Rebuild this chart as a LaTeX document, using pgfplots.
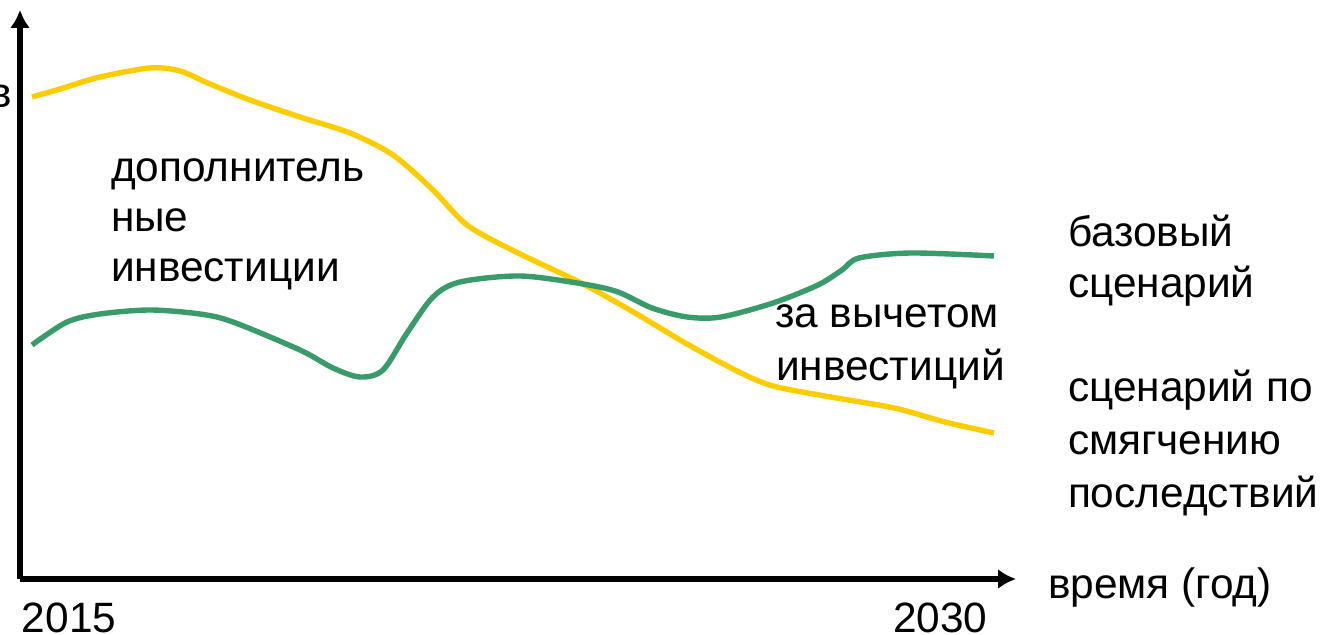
\documentclass[border=0pt]{standalone}
\usepackage{pgfplots}
\pgfplotsset{compat=1.18}
\usepackage{fontspec}
\setmainfont{Liberation Sans}
\usetikzlibrary{arrows.meta}
\definecolor{cyellow}{HTML}{FFCC00}
\definecolor{cgreen}{HTML}{389B69}
\tikzset{lbl/.style={inner sep=0pt, outer sep=0pt, font=\fontsize{21.2}{25}\selectfont}}
\begin{document}
\begin{tikzpicture}
\begin{axis}[
  scale only axis,
  width=498pt, height=284.5pt,
  xmin=20, xmax=1016, ymin=56, ymax=625,
  axis lines=left,
  axis line style={line width=2.6pt, -{Latex[length=9pt,width=10pt]}},
  xtick=\empty, ytick=\empty,
  clip=false,
]
% y values = 635 - pixel row
\addplot[cyellow, line width=2.7pt, smooth, tension=0.5] coordinates {
(32,538) (60,546) (100,558) (150,567) (180,564) (210,551) (250,535) (300,518)
(350,502) (393,480) (433,445) (467,410) (514,384) (583,351) (635,322) (687,291)
(739,263) (773,249) (825,239) (894,227) (945,213) (994,202)
};
\addplot[cgreen, line width=2.7pt, smooth, tension=0.5] coordinates {
(32,290) (67,313) (100,321) (150,325) (200,321) (233,313) (300,285) (333,267)
(360,258) (383,265) (407,302) (433,338) (460,353) (520,359) (583,351) (618,343)
(652,327) (687,318) (721,318) (773,332) (818,350) (842,365) (859,377) (911,382)
(994,379)
};
\node[lbl, anchor=base east] at (axis cs:12,527) {в};
\node[lbl, anchor=base west] at (axis cs:111,453) {дополнитель};
\node[lbl, anchor=base west] at (axis cs:111,403) {ные};
\node[lbl, anchor=base west] at (axis cs:111,353) {инвестиции};
\node[lbl, anchor=base west] at (axis cs:775,307) {за вычетом};
\node[lbl, anchor=base west] at (axis cs:776,254) {инвестиций};
\node[lbl, anchor=base west] at (axis cs:1068,388) {базовый};
\node[lbl, anchor=base west] at (axis cs:1068,337) {сценарий};
\node[lbl, anchor=base west] at (axis cs:1068,233) {сценарий по};
\node[lbl, anchor=base west] at (axis cs:1068,180) {смягчению};
\node[lbl, anchor=base west] at (axis cs:1068,127) {последствий};
\node[lbl, anchor=base west] at (axis cs:1048,36) {время (год)};
\node[lbl, anchor=base west] at (axis cs:22,2) {2015};
\node[lbl, anchor=base west] at (axis cs:893,2) {2030};
\coordinate (BL) at (axis cs:0,0);
\coordinate (TR) at (axis cs:1320,635);
\end{axis}
\pgfresetboundingbox
\path[use as bounding box] (BL) rectangle (TR);
\end{tikzpicture}
\end{document}
